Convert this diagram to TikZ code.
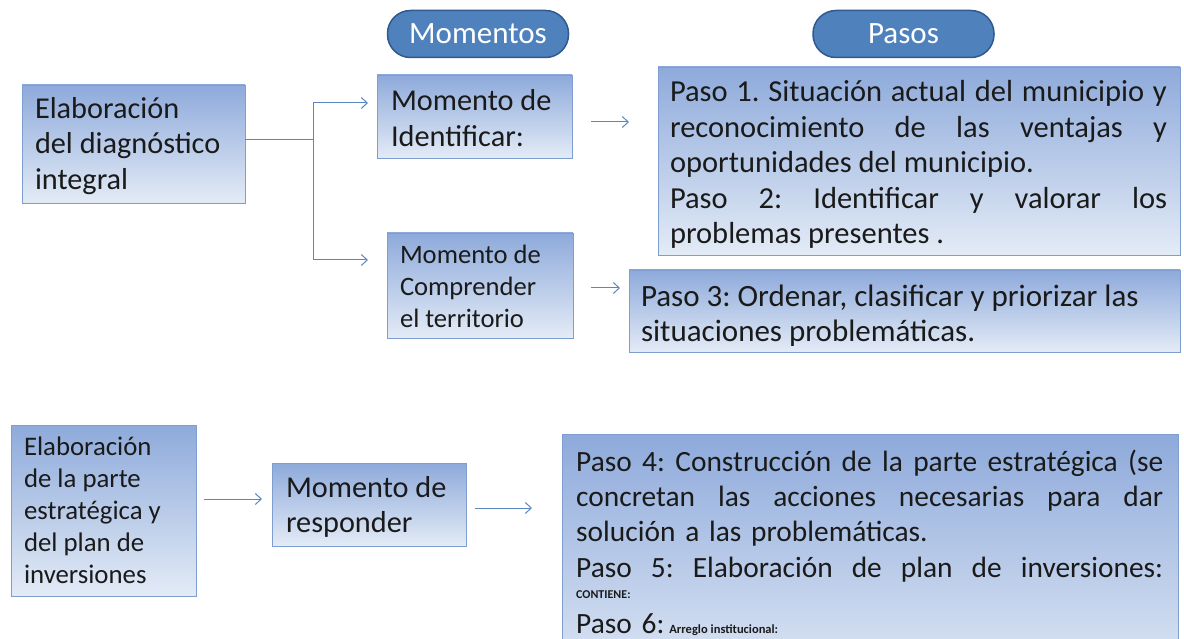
\documentclass[tikz,border=0pt]{standalone}
\usepackage{fontspec}
\setmainfont{Carlito}
\usetikzlibrary{arrows.meta,shadows}
\definecolor{boxtop}{HTML}{8EAADB}
\definecolor{boxbot}{HTML}{E3EBF6}
\definecolor{boxline}{HTML}{7F9ED0}
\definecolor{pillfill}{HTML}{4F81BD}
\definecolor{pillline}{HTML}{2F5A8E}
\definecolor{arrcol}{HTML}{5A86C2}
\definecolor{txt}{HTML}{1A1A1A}
\newcommand\jl[2]{\makebox[#1][l]{#2}}
% shifted text block: #1 downward shift, #2 width, #3 text
\newcommand\sh[3]{\raisebox{-#1}[\height][\depth]{\parbox{#2}{#3}}}
\newcommand\fA{\fontsize{30.3}{35.5}\selectfont\frenchspacing}
\newcommand\fD{\fontsize{30.5}{35.5}\selectfont\frenchspacing}
\newcommand\fE{\fontsize{31}{35.5}\selectfont\frenchspacing}
\newcommand\fC{\fontsize{26.6}{32}\selectfont\frenchspacing}
\newcommand\fF{\fontsize{26.8}{32}\selectfont\frenchspacing}
\newcommand\fG{\fontsize{30.3}{35}\selectfont\frenchspacing}
\newcommand\fH{\fontsize{29.4}{35.3}\selectfont\frenchspacing}
\begin{document}
\begin{tikzpicture}[x=1pt,y=-1pt,
  box/.style={draw=boxline, line width=0.8pt, top color=boxtop, bottom color=boxbot,
    text=txt, inner sep=0pt,
    drop shadow={shadow xshift=1.2pt, shadow yshift=-1.2pt, opacity=0.25}},
  pill/.style={draw=pillline, fill=pillfill, line width=1.5pt, rounded corners=23pt,
    minimum width=181pt, minimum height=47pt, inner sep=0pt, text=white,
    font=\fontsize{31}{32}\selectfont},
  conn/.style={draw=arrcol, line width=1pt},
  arr/.style={conn, -{Straight Barb[length=6pt,width=11pt]}}]
\useasboundingbox (0,0) rectangle (1184,639);
\clip (0,0) rectangle (1184,639);
\fill[white] (0,0) rectangle (1184,639);

% pills
\node[pill] (M) at (478,34) {Momentos};
\node[pill] (P) at (903.5,34) {Pasos};

% top part
\node[box, font=\fA, minimum width=223pt, minimum height=118pt]
  (A) at (133.5,144) {\sh{2pt}{197pt}{Elaboración\\del diagnóstico\\integral}};
\node[box, font=\fA, minimum width=195pt, minimum height=83pt]
  (B) at (474.5,116.5) {\sh{1.5pt}{167pt}{Momento de\\Identificar:}};
\node[box, font=\fC, minimum width=186pt, minimum height=105pt]
  (C) at (480,285.5) {\sh{1pt}{160pt}{Momento de\\Comprender\\el territorio}};
\node[box, font=\fD, minimum width=522pt, minimum height=188pt]
  (D) at (919,161) {\sh{3.5pt}{498pt}{\jl{497pt}{Paso\hfill 1.\hfill Situación\hfill actual\hfill del\hfill municipio\hfill y}\\
  \jl{497pt}{reconocimiento\hfill de\hfill las\hfill ventajas\hfill y}\\
  oportunidades del municipio.\\
  \jl{497pt}{Paso\hfill 2:\hfill Identificar\hfill y\hfill valorar\hfill los}\\
  problemas presentes .}};
\node[box, font=\fE, minimum width=551pt, minimum height=82pt]
  (E) at (904.5,311) {\sh{4.5pt}{527pt}{Paso 3: Ordenar, clasificar y priorizar las\\situaciones problemáticas.}};

% bottom part
\node[box, font=\fF, minimum width=185pt, minimum height=171pt]
  (F) at (103.5,510.5) {\sh{0pt}{159pt}{Elaboración\\de la parte\\estratégica y\\del plan de\\inversiones}};
\node[box, font=\fG, minimum width=194pt, minimum height=83pt]
  (G) at (369,504.5) {\sh{2.5pt}{166pt}{Momento de\\responder}};
\node[box, minimum width=616pt, minimum height=260pt, anchor=north]
  (H) at (870,434) {};
\node[font=\fH, text=txt, align=left, text width=588pt, inner sep=0pt, anchor=north west]
  (Ht) at (576,449.5) {\jl{587pt}{Paso\hfill 4:\hfill Construcción\hfill de\hfill la\hfill parte\hfill estratégica\hfill (se}\\
  \jl{587pt}{concretan\hfill las\hfill acciones\hfill necesarias\hfill para\hfill dar}\\
  solución a las problemáticas.\\
  \jl{587pt}{Paso\hfill 5:\hfill Elaboración\hfill de\hfill plan\hfill de\hfill inversiones:}\\[-14pt]
  {\fontsize{12}{13}\selectfont\bfseries CONTIENE:}\\[0pt]
  Paso 6:\hspace{5pt}{\fontsize{12.5}{13}\selectfont\bfseries Arreglo\hspace{3pt}institucional:}};

% connectors
\coordinate (j) at (313,140);
\coordinate (tB) at (368,103);
\coordinate (tC) at (368,260);
\draw[conn] (A.east |- j) -- (j);
\draw[arr] (j) |- (tB);
\draw[arr] (j) |- (tC);

\coordinate (s1) at (591,122); \coordinate (e1) at (629,122);
\coordinate (s2) at (591,288); \coordinate (e2) at (620,288);
\coordinate (s3) at (204,499); \coordinate (e3) at (262,499);
\coordinate (s4) at (475,508); \coordinate (e4) at (532,508);
\draw[arr] (s1) -- (e1);
\draw[arr] (s2) -- (e2);
\draw[arr] (s3) -- (e3);
\draw[arr] (s4) -- (e4);
\end{tikzpicture}
\end{document}
